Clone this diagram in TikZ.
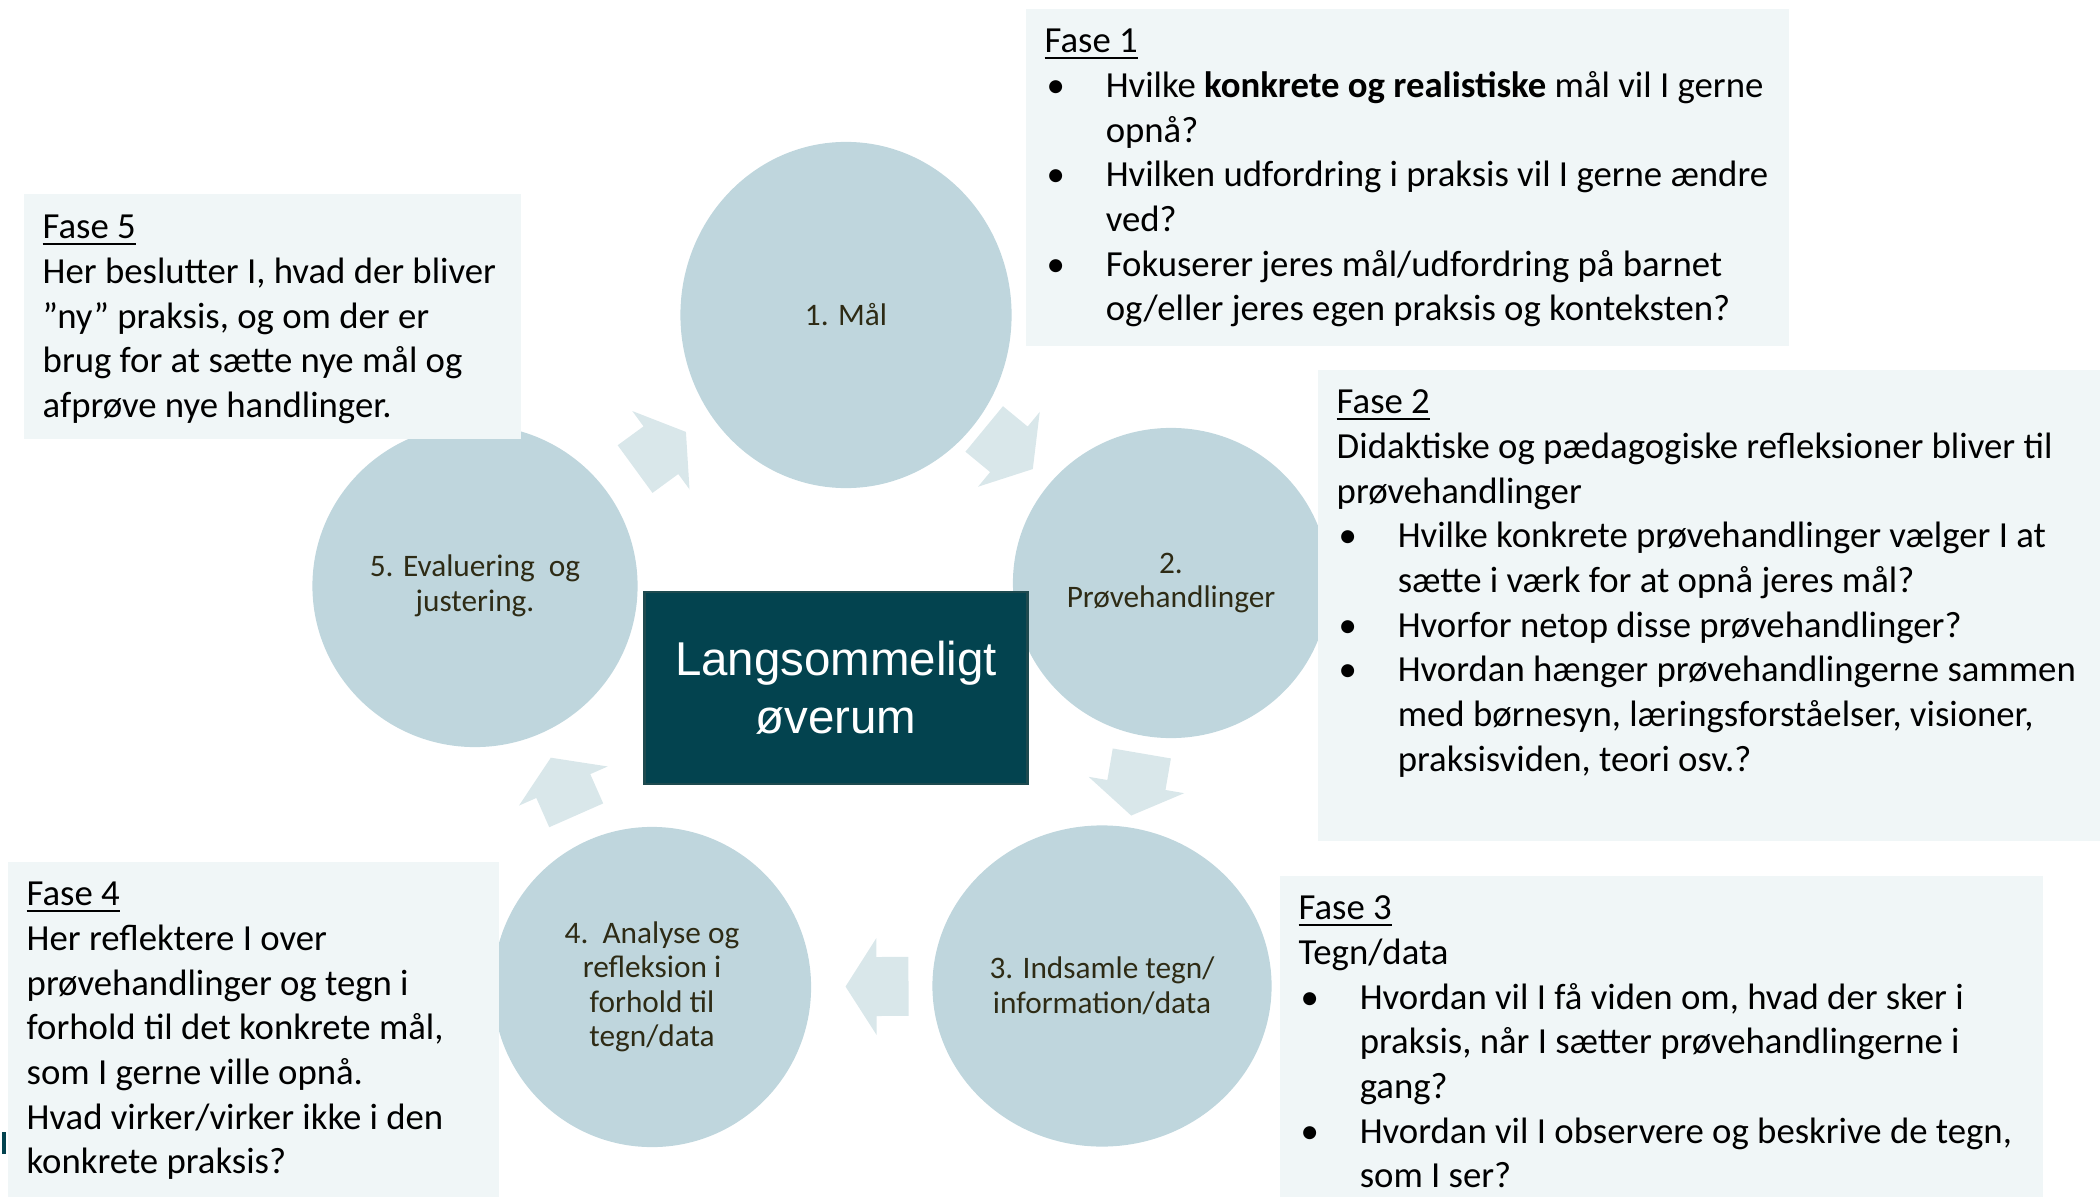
\documentclass[tikz,border=0pt]{standalone}
\usepackage{fontspec}
\setmainfont{Carlito}
\newfontfamily\titlefont{Liberation Sans}
\usetikzlibrary{positioning,shapes.geometric,calc}

\definecolor{circfill}{HTML}{BFD6DD}
\definecolor{arrowfill}{HTML}{D9E7EA}
\definecolor{boxfill}{HTML}{F0F6F7}
\definecolor{corefill}{HTML}{03434F}
\definecolor{coreline}{HTML}{1E4A4F}
\definecolor{circtext}{HTML}{2E2B15}

\newsavebox\titlebox
\newcommand{\fasetitle}[1]{\sbox\titlebox{#1}\rlap{\rule[-1.8pt]{\wd\titlebox}{0.55pt}}\usebox\titlebox}
\newcommand{\bul}{\makebox[0.61cm][l]{\hspace{0.02cm}\textbullet}}
\newcommand{\ind}{\hspace*{0.61cm}}

% block arrow half way from one phase to the next
\newcommand{\phasearrow}[2]{%
  \pgfmathanglebetweenpoints{\pgfpointanchor{#1}{center}}{\pgfpointanchor{#2}{center}}%
  \let\arrowangle\pgfmathresult
  \fill[arrowfill, shift={($(#1)!0.5!(#2)$)}, rotate=\arrowangle]
    (-31.5,-29.5) -- (0.5,-29.5) -- (0.5,-48.5) -- (31.5,0) -- (0.5,48.5) -- (0.5,29.5) -- (-31.5,29.5) -- cycle;}

\begin{document}
\begin{tikzpicture}[x=0.01cm, y=-0.01cm,
  phase/.style={ellipse, fill=circfill, inner sep=0pt, align=center, text=circtext,
    font=\fontsize{8.9pt}{9.8pt}\selectfont},
  fasebox/.style={rectangle, fill=boxfill, inner sep=0pt, anchor=north west},
  fasetext/.style={inner sep=0pt, anchor=north west, align=left,
    font=\fontsize{10.45pt}{12.7pt}\selectfont}]

\useasboundingbox (0,0) rectangle (2100,1197);

% Phases round the centre
\node[phase, minimum width=3.31cm, minimum height=3.46cm] (c1) at (846,315) {1. Mål};
\node[phase, minimum width=3.16cm, minimum height=3.10cm] (c2) at (1171,583) {2.\\Prøvehandlinger};
\node[phase, minimum width=3.39cm, minimum height=3.21cm] (c3) at (1102,986) {3. Indsamle tegn/\\information/data};
\node[phase, minimum width=3.18cm, minimum height=3.20cm] (c4) at (652,987) {4.\ \ Analyse og\\refleksion i\\forhold til\\tegn/data};
\node[phase, minimum width=3.25cm, minimum height=3.22cm] (c5) at (475,586) {5. Evaluering\ \ og\\justering.};

% Block arrows between the phases
\phasearrow{c1}{c2}
\phasearrow{c2}{c3}
\phasearrow{c3}{c4}
\phasearrow{c4}{c5}
\phasearrow{c5}{c1}

% Fase 1
\node[fasebox, minimum width=7.63cm, minimum height=3.37cm] (f1box) at (1025,8) {};
\node[fasetext, below right=0.13cm and 0.19cm of f1box.north west] (f1) {\strut\fasetitle{Fase 1}\\
  \bul Hvilke \textbf{konkrete og realistiske} mål vil I gerne\\
  \ind opnå?\\
  \bul Hvilken udfordring i praksis vil I gerne ændre\\
  \ind ved?\\
  \bul Fokuserer jeres mål/udfordring på barnet\\
  \ind og/eller jeres egen praksis og konteksten?};

% Fase 2
\node[fasebox, minimum width=7.83cm, minimum height=4.71cm] (f2box) at (1317,369) {};
\node[fasetext, below right=0.13cm and 0.19cm of f2box.north west] (f2) {\strut\fasetitle{Fase 2}\\
  Didaktiske og pædagogiske refleksioner bliver til\\
  prøvehandlinger\\
  \bul Hvilke konkrete prøvehandlinger vælger I at\\
  \ind sætte i værk for at opnå jeres mål?\\
  \bul Hvorfor netop disse prøvehandlinger?\\
  \bul Hvordan hænger prøvehandlingerne sammen\\
  \ind med børnesyn, læringsforståelser, visioner,\\
  \ind praksisviden, teori osv.?};

% Fase 3
\node[fasebox, minimum width=7.63cm, minimum height=3.22cm] (f3box) at (1279,875) {};
\node[fasetext, below right=0.13cm and 0.19cm of f3box.north west] (f3) {\strut\fasetitle{Fase 3}\\
  Tegn/data\\
  \bul Hvordan vil I få viden om, hvad der sker i\\
  \ind praksis, når I sætter prøvehandlingerne i\\
  \ind gang?\\
  \bul Hvordan vil I observere og beskrive de tegn,\\
  \ind som I ser?};

% Fase 4
\node[fasebox, minimum width=4.91cm, minimum height=3.36cm] (f4box) at (7,861) {};
\node[fasetext, below right=0.13cm and 0.19cm of f4box.north west] (f4) {\strut\fasetitle{Fase 4}\\
  Her reflektere I over\\
  prøvehandlinger og tegn i\\
  forhold til det konkrete mål,\\
  som I gerne ville opnå.\\
  Hvad virker/virker ikke i den\\
  konkrete praksis?};
\fill[corefill] (2,1132) rectangle (6,1154);

% Fase 5
\node[fasebox, minimum width=4.97cm, minimum height=2.45cm] (f5box) at (23,193) {};
\node[fasetext, below right=0.14cm and 0.19cm of f5box.north west] (f5) {\strut\fasetitle{Fase 5}\\
  Her beslutter I, hvad der bliver\\
  ”ny” praksis, og om der er\\
  brug for at sætte nye mål og\\
  afprøve nye handlinger.};

% Centre
\node[draw=coreline, fill=corefill, line width=0.8pt, minimum width=3.82cm, minimum height=1.92cm,
  text=white, align=center, font=\titlefont\fontsize{13.5pt}{16.5pt}\selectfont] (core) at (836,688) {Langsommeligt\\øverum};

\end{tikzpicture}
\end{document}
